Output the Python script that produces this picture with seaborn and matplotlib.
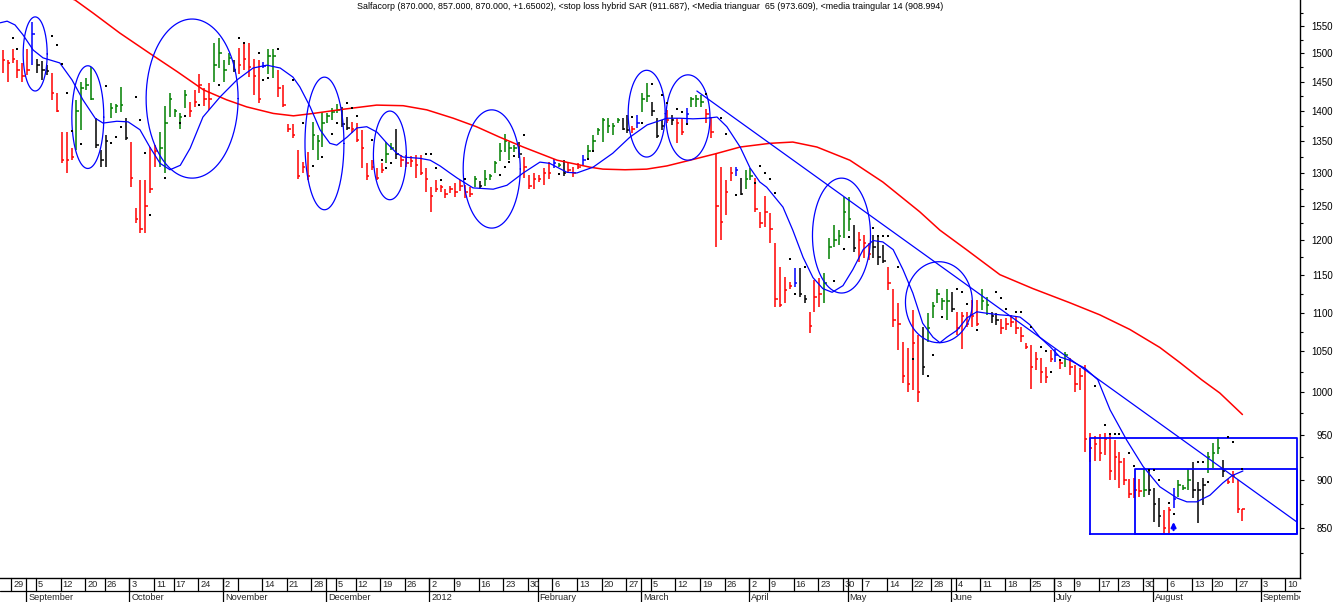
import numpy as np
import pandas as pd
import matplotlib
matplotlib.use("Agg")
import matplotlib.pyplot as plt
import seaborn as sns
from matplotlib.transforms import blended_transform_factory, Bbox, TransformedBbox, offset_copy
from matplotlib.ticker import FixedLocator, NullFormatter, FuncFormatter

sns.set_theme(style="white")
plt.rcParams['font.family'] = ['Liberation Sans', 'DejaVu Sans']

# ---------------- data (trading-day index 0 = 25 Aug 2011) ----------------
highs = [1506,1488,1508,1488,1483,1508,1557,1490,1486,1479,
         1465,1431,1365,1365,1339,1419,1450,1456,1476,1388,
         1336,1360,1413,1412,1441,1388,1349,1247,1289,1289,
         1341,1344,1365,1408,1431,1403,1397,1436,1415,1436,
         1463,1439,1448,1519,1528,1488,1501,1488,1510,1519,
         1519,1490,1488,1484,1508,1508,1470,1444,1378,1378,
         1336,1317,1333,1382,1360,1398,1397,1405,1412,1407,
         1390,1382,1380,1369,1315,1320,1308,1315,1349,1347,
         1370,1328,1328,1326,1328,1328,1308,1278,1289,1281,
         1275,1280,1284,1289,1281,1278,1295,1287,1305,1298,
         1318,1347,1362,1349,1344,1349,1325,1297,1300,1297,
         1308,1317,1322,1315,1320,1315,1309,1315,1328,1344,
         1360,1372,1388,1388,1380,1388,1388,1393,1375,1393,
         1431,1448,1415,1388,1385,1402,1393,1388,1388,1405,
         1424,1427,1427,1403,1390,1331,1309,1289,1309,1309,
         1292,1305,1308,1292,1241,1265,1239,1196,1161,1148,
         1141,1160,1160,1123,1101,1144,1146,1153,1203,1222,
         1214,1263,1263,1222,1211,1207,1196,1207,1206,1193,
         1161,1131,1112,1062,1054,1103,1071,1081,1099,1114,
         1131,1119,1131,1127,1101,1101,1101,1117,1117,1131,
         1120,1101,1099,1091,1093,1097,1094,1081,1060,1058,
         1049,1042,1031,1052,1053,1041,1049,1042,1033,1029,
         1033,952,949,951,952,952,944,931,924,901,
         902,901,912,912,892,881,868,872,892,900,
         895,912,920,898,902,931,941,948,922,901,
         910,900,870]
lows = [1465,1450,1483,1456,1450,1461,1480,1465,1453,1461,
        1419,1398,1315,1300,1320,1336,1369,1436,1419,1339,
        1309,1309,1388,1397,1398,1352,1278,1224,1210,1210,
        1269,1309,1309,1300,1390,1390,1370,1405,1390,1407,
        1431,1408,1402,1450,1474,1450,1480,1467,1463,1470,
        1458,1427,1413,1474,1463,1456,1424,1407,1365,1356,
        1291,1300,1289,1336,1320,1341,1380,1385,1397,1374,
        1369,1364,1349,1308,1289,1305,1289,1300,1315,1336,
        1322,1309,1309,1309,1292,1297,1271,1241,1271,1271,
        1261,1269,1263,1272,1261,1263,1278,1275,1280,1289,
        1300,1318,1333,1320,1333,1323,1292,1275,1276,1286,
        1281,1291,1308,1309,1295,1300,1294,1306,1311,1320,
        1336,1360,1349,1364,1360,1380,1369,1364,1364,1372,
        1398,1415,1392,1356,1369,1380,1377,1347,1360,1380,
        1407,1407,1407,1380,1356,1190,1200,1236,1287,1295,
        1266,1275,1289,1241,1217,1219,1196,1107,1107,1113,
        1131,1134,1121,1113,1073,1101,1107,1113,1173,1190,
        1193,1203,1213,1183,1169,1174,1171,1174,1164,1167,
        1130,1081,1052,1011,1000,1003,988,1021,1062,1093,
        1113,1103,1090,1101,1071,1053,1081,1081,1082,1103,
        1097,1086,1084,1072,1077,1081,1072,1062,1053,1004,
        1027,1011,1011,1037,1037,1028,1031,1021,1000,1003,
        931,920,921,921,928,900,900,892,895,881,
        881,882,882,884,856,851,843,843,871,882,
        889,889,881,855,874,908,913,929,903,896,
        897,865,857]
closes = [1488,1483,1490,1470,1460,1470,1536,1480,1470,1468,
          1430,1400,1320,1320,1325,1400,1439,1445,1420,1345,
          1320,1350,1405,1408,1410,1355,1292,1230,1215,1250,
          1275,1335,1340,1380,1420,1400,1390,1428,1400,1415,
          1445,1420,1420,1480,1500,1470,1492,1470,1480,1490,
          1475,1460,1420,1478,1495,1495,1440,1410,1370,1360,
          1295,1310,1295,1360,1350,1380,1392,1398,1402,1378,
          1372,1370,1352,1340,1295,1310,1292,1305,1330,1340,
          1330,1320,1315,1318,1312,1300,1290,1265,1275,1278,
          1268,1275,1270,1280,1270,1268,1290,1280,1290,1295,
          1315,1335,1350,1340,1340,1330,1310,1280,1290,1290,
          1300,1300,1315,1313,1300,1305,1300,1310,1320,1335,
          1350,1368,1385,1375,1375,1385,1370,1368,1370,1380,
          1420,1425,1400,1358,1375,1385,1385,1380,1365,1395,
          1420,1420,1415,1395,1365,1250,1226,1270,1300,1305,
          1268,1290,1295,1245,1225,1240,1215,1118,1110,1130,
          1135,1140,1125,1118,1082,1120,1125,1140,1190,1200,
          1205,1240,1230,1188,1200,1195,1180,1190,1175,1170,
          1140,1090,1085,1020,1010,1060,1000,1030,1080,1108,
          1125,1115,1115,1105,1080,1095,1085,1095,1085,1115,
          1110,1095,1090,1080,1085,1088,1080,1070,1055,1030,
          1040,1025,1018,1040,1045,1035,1045,1030,1010,1020,
          946,935,940,930,945,910,925,920,900,885,
          890,888,890,890,875,862,850,868,880,895,
          892,900,890,890,895,925,930,935,910,898,
          905,870,870]
bar_colors = ("RRRRRRBKKK" "RRRRRGGGGK" "KKGGGKRRRR" "RRGGGGGGRR" "RRRGGGGKRR"
              "RRRBGGRRRR" "RRRGGGGGGK" "KRRRRRRRGG" "KRRRRRRRRR" "RRRRRRGKGG"
              "GGGGGKRRRR" "RRBGKRRRBG" "GGGGGGKKRB" "GGKKKRKRRB" "GGGRRRRRRB"
              "KGGRRRRRRR" "RBKKRRRGGG" "GGGKRRRKKK" "RRRRRRRKGG" "GGGKRRRRRG"
              "GKKRRRRRRR" "RRRRBRGRRR" "RRRRRRRRRR" "RRGKKKRRBG" "GGKKKGGGKR"
              "RRR")

# triangular moving average 14 (blue) - knots (bar index, value)
ma14_x = [-0.5,0.9,2.5,4.1,6.2,8.2,11.6,14.1,16.3,18.8,20.4,23.2,25.5,27.9,29.9,32.0,34.0,36.1,38.1,
          40.7,44.2,47.6,50.9,53.7,56.4,59.0,60.4,62.5,64.5,66.5,67.9,70.0,72.0,74.0,76.1,78.1,80.1,81.4,
          84.8,86.9,88.9,90.9,92.4,95.6,99.7,102.5,105.8,109.2,111.2,114.7,116.7,120.0,124.0,127.5,131.0,
          135.0,137.7,140.3,143.1,145.2,147.2,149.9,151.9,153.9,155.3,158.6,160.6,162.7,164.7,166.7,168.6,
          170.8,172.8,174.9,176.9,178.9,181.0,183.0,185.0,187.0,189.1,190.5,191.9,194.0,196.0,198.0,200.1,
          202.7,204.7,206.8,208.8,210.8,212.9,214.9,216.9,220.0,222.6,225.1,228.5,231.8,235.2,238.7,240.7,
          242.7,245.4,248.0,249.9,252.1]
ma14_v = [1556,1559,1552,1534,1506,1492,1483,1453,1419,1388,1380,1383,1382,1369,1341,1315,1305,1312,1339,
          1390,1424,1453,1474,1479,1474,1458,1441,1407,1369,1347,1344,1357,1372,1374,1365,1347,1331,1325,
          1323,1320,1311,1300,1292,1277,1275,1281,1300,1317,1315,1301,1300,1309,1331,1357,1377,
          1388,1388,1387,1388,1390,1374,1341,1308,1286,1278,1248,1214,1175,1147,1132,1127,
          1136,1158,1186,1199,1197,1186,1158,1126,1086,1068,1061,1068,1077,1093,1101,1099,
          1097,1096,1094,1084,1068,1056,1043,1039,1029,1015,979,944,915,893,881,877,
          877,884,897,905,910]

# triangular moving average 65 (red) - knots (bar index, value)
ma65_x = [11.0,14.7,18.4,23.8,29.9,35.4,40.8,45.5,49.6,55.0,59.1,63.1,69.2,76.0,81.4,86.2,91.6,96.3,
          101.0,105.8,112.7,119.4,122.0,126.5,130.9,135.0,139.7,144.8,149.9,156.0,160.6,165.5,172.2,
          178.9,186.4,190.5,195.9,202.7,209.4,216.9,223.0,229.1,235.2,239.3,243.7,247.4,252.0]
ma65_v = [1612,1599,1574,1537,1500,1468,1436,1419,1407,1396,1392,1396,1403,1410,1409,1402,1388,1374,
          1357,1341,1320,1309,1306,1305,1306,1311,1320,1330,1341,1347,1349,1341,1320,
          1286,1241,1214,1186,1151,1132,1113,1097,1078,1055,1036,1015,999,973.6]

# stop loss hybrid SAR dots
sar_x = [2,3,10,11,12,13,14,16,21,22,23,24,27,28,29,30,33,36,37,40,44,48,49,52,53,54,56,59,61,63,
         65,67,68,70,71,72,75,77,78,79,86,87,88,89,94,101,102,103,104,106,113,119,120,128,130,132,
         134,135,137,138,139,143,146,147,149,153,154,155,156,157,160,161,163,169,171,172,177,178,179,
         180,182,185,188,189,191,194,195,196,198,202,203,204,206,207,209,211,212,213,215,222,224,225,
         226,227,229,230,233,234,235,237,238,243,244,245,249,250,252]
sar_v = [1528,1508,1531,1515,1481,1431,1367,1346,1442,1347,1357,1374,1424,1385,1331,1236,1292,1380,1392,
         1411,1444,1528,1519,1501,1453,1456,1508,1453,1380,1311,1325,1362,1380,1413,1405,1392,1352,1320,
         1308,1315,1330,1330,1308,1289,1290,1297,1309,1317,1326,1361,1298,1322,1335,1390,1380,1446,1427,
         1413,1403,1398,1378,1429,1388,1362,1266,1284,1311,1300,1291,1269,1173,1125,1161,1142,1187,1204,
         1217,1206,1206,1206,1161,1041,1019,1046,1094,1131,1127,1111,1077,1127,1119,1105,1101,1101,1081,
         1056,1051,1024,1039,1008,962,951,951,951,930,915,911,911,900,876,864,920,920,898,948,942,912]

# hand-drawn ellipses: centre bar, half-width (bars), top value, bottom value
ell_cx = [6.6, 17.3, 38.5, 65.4, 78.7, 99.4, 130.9, 139.3, 170.5, 190.3]
ell_hw = [2.44, 3.25, 9.35, 3.96, 3.35, 5.8, 3.76, 4.47, 5.9, 6.8]
ell_top = [1567, 1478, 1563, 1458, 1400, 1402, 1470, 1462, 1292, 1169]
ell_bot = [1434, 1307, 1292, 1244, 1259, 1217, 1325, 1320, 1126, 1061]

# trend line and boxes
trend_x = [141.1, 263.1]
trend_v = [1434, 856]
box_outer = (221.0, 263.1, 844, 947)
box_inner = (230.1, 263.1, 844, 911.687)
arrow_pos = (238, 845, 859)

# date axis
week_idx = [2,7,12,17,21,26,31,35,40,45,48,53,58,63,68,72,77,82,87,92,97,102,107,112,117,122,127,
            132,137,142,147,152,156,161,166,171,175,180,185,189,194,199,204,209,214,218,223,227,232,
            237,242,246,251,256,261]
week_lab = ["29","5","12","20","26","3","11","17","24","2","","14","21","28","5","12","19","26","2",
            "9","16","23","30","6","13","20","27","5","12","19","26","2","9","16","23","30","7","14",
            "22","28","4","11","18","25","3","9","17","23","30","6","13","20","27","3","10"]
month_idx = [5,26,45,66,87,109,130,152,172,193,214,234,256]
month_lab = ["September","October","November","December","2012","February","March","April",
             "May","June","July","August","September"]

y_major = [850,900,950,1000,1050,1100,1150,1200,1250,1300,1350,1400,1450,1500,1550]
y_minor = [825,875,925,975,1025,1075,1125,1175,1225,1275,1325,1375,1425,1475,1525,1575]

title = ("Salfacorp (870.000, 857.000, 870.000, +1.65002), <stop loss hybrid SAR (911.687), "
         "<Media trianguar  65 (973.609), <media traingular 14 (908.994)")

# ---------------- figure ----------------
W, H = 1336, 602
fig = plt.figure(figsize=(W/100, H/100), dpi=100)
fig.patch.set_facecolor('white')
ax = fig.add_axes([0, 24/H, 1300/W, 578/H])
ax.set_facecolor('white')
ax.set_yscale('log')
XL = (-0.55, 263.7)
ax.set_xlim(*XL)
ax.set_ylim(800.6, 1599)

colmap = {'R': '#ff0000', 'G': '#008000', 'K': '#000000', 'B': '#0000ff'}
idx = np.arange(len(highs))
cols = [colmap[c] for c in bar_colors]
ax.vlines(idx, lows, highs, colors=cols, lw=1.1, zorder=3)
ax.hlines(closes, idx, idx + 0.5, colors=cols, lw=1.1, zorder=3)

df65 = pd.DataFrame({'i': ma65_x, 'v': ma65_v})
df14 = pd.DataFrame({'i': ma14_x, 'v': ma14_v})
sns.lineplot(data=df65, x='i', y='v', ax=ax, color='#ff0000', lw=1.1, estimator=None, sort=False, legend=False, zorder=4)
sns.lineplot(data=df14, x='i', y='v', ax=ax, color='#0000ff', lw=0.9, estimator=None, sort=False, legend=False, zorder=4)
sns.scatterplot(x=sar_x, y=sar_v, ax=ax, color='black', s=2.5, marker='s', linewidth=0, legend=False, zorder=5)
ax.set_xlabel('')
ax.set_ylabel('')

t = np.linspace(0, 2*np.pi, 240)
for cx, hw, tp, bt in zip(ell_cx, ell_hw, ell_top, ell_bot):
    c = (np.log(tp) + np.log(bt)) / 2
    r = (np.log(tp) - np.log(bt)) / 2
    ax.plot(cx + hw*np.cos(t), np.exp(c + r*np.sin(t)), color='#0000ff', lw=0.9, zorder=4)

ax.plot(trend_x, trend_v, color='#0000ff', lw=0.9, zorder=4)
for (x0, x1, y0, y1) in (box_outer, box_inner):
    ax.plot([x0, x1, x1, x0, x0], [y0, y0, y1, y1, y0], color='#0000ff', lw=1.3, zorder=4)
ax.annotate('', xy=(arrow_pos[0], arrow_pos[2]), xytext=(arrow_pos[0], arrow_pos[1]),
            arrowprops=dict(arrowstyle='-|>', color='#0000ff', lw=1.6, mutation_scale=7), zorder=6)

# axes frame
for s in ('top', 'left'):
    ax.spines[s].set_visible(False)
for s in ('bottom', 'right'):
    ax.spines[s].set_color('black')
    ax.spines[s].set_linewidth(1.0)

ax.set_xticks([])
ax.yaxis.tick_right()
ax.yaxis.set_major_locator(FixedLocator(y_major))
ax.yaxis.set_minor_locator(FixedLocator(y_minor))
ax.yaxis.set_major_formatter(FuncFormatter(lambda v, p: f"{v:.0f}"))
ax.yaxis.set_minor_formatter(NullFormatter())
ax.tick_params(axis='y', which='both', right=True, left=False, labelright=True, labelleft=False,
               direction='out', colors='black', width=0.8)
ax.tick_params(axis='y', which='major', length=3.2, pad=20.5, labelsize=7)
ax.tick_params(axis='y', which='minor', length=2.2)
for lab in ax.get_yticklabels():
    lab.set_ha('right')

# two-row date axis
trans = blended_transform_factory(ax.transData, ax.transAxes)
px = 1/578
row1 = -13*px
row2 = -24*px
ax.plot(XL, [row1, row1], transform=trans, clip_on=False, color='black', lw=0.9)
for i in week_idx:
    ax.plot([i-0.25, i-0.25], [0, row1], transform=trans, clip_on=False, color='black', lw=0.9)
for i in month_idx:
    ax.plot([i-0.25, i-0.25], [0, row2], transform=trans, clip_on=False, color='black', lw=0.9)
ltrans = offset_copy(trans, fig=fig, x=2, y=0, units='dots')
for i, lab in zip(week_idx, week_lab):
    ax.text(i-0.25, -6.3*px, lab, transform=ltrans, ha='left', va='center', fontsize=6.7, clip_on=False)
clipbb = TransformedBbox(Bbox([[0, 0], [1300/W, 1]]), fig.transFigure)
for i, lab in zip(month_idx, month_lab):
    tx = ax.text(i-0.25, -19*px, lab, transform=ltrans, ha='left', va='center', fontsize=6.7)
    tx.set_clip_box(clipbb)
    tx.set_clip_on(True)

fig.text(650/W, 1 - 6.5/H, title, ha='center', va='center', fontsize=6.4, color='black')

fig.savefig('out.png', dpi=100, facecolor='white')
